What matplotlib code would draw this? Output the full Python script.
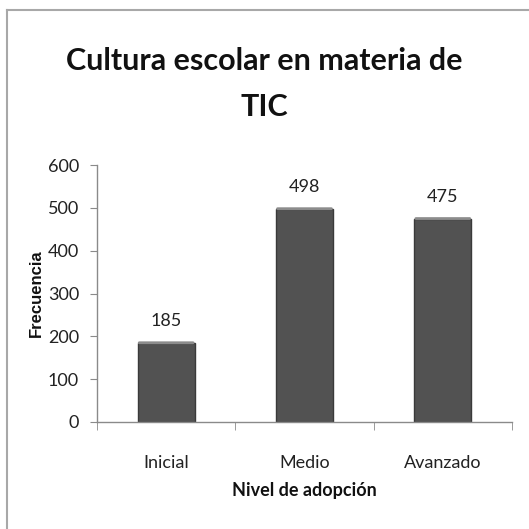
import matplotlib
matplotlib.use("Agg")
import matplotlib.pyplot as plt
from matplotlib.lines import Line2D
import numpy as np

# adoption levels and how many schools fall in each
niveles = ["Inicial", "Medio", "Avanzado"]
frecuencia = [185, 498, 475]
yticks = [0, 100, 200, 300, 400, 500, 600]

fuente = "Lato"

fig = plt.figure(figsize=(5.29, 5.29), dpi=100)
fig.patch.set_facecolor("white")

# thin grey frame on the top and left edges
fig.add_artist(Line2D([7 / 529, 1], [1 - 10 / 529, 1 - 10 / 529],
                      color="#a8a8a8", lw=1.5, transform=fig.transFigure))
fig.add_artist(Line2D([7 / 529, 7 / 529], [0, 1 - 10 / 529],
                      color="#a8a8a8", lw=1.5, transform=fig.transFigure))

ax = fig.add_axes([97 / 529, 1 - 422 / 529, 415 / 529, 257 / 529])

x = np.arange(len(niveles))
bars = ax.bar(x, frecuencia, width=0.41, color="#525252",
              edgecolor="#3a3a3a", linewidth=1.0, zorder=2)

# lighter bevel just under the top of every bar
for b in bars:
    ax.annotate("", xy=(b.get_x() + b.get_width(), b.get_height()),
                xytext=(b.get_x(), b.get_height()),
                arrowprops=dict(arrowstyle="-", color="#8c8c8c", lw=2,
                                shrinkA=1, shrinkB=1),
                zorder=3)

for xi, v in zip(x, frecuencia):
    ax.annotate(str(v), (xi, v), xytext=(0, 10), textcoords="offset points",
                ha="center", va="bottom", fontsize=13, color="#222222",
                family=fuente)

ax.set_xlim(-0.5, 2.5)
ax.set_ylim(0, 600)
ax.set_yticks(yticks)
ax.set_yticklabels([str(t) for t in yticks], family=fuente,
                   fontsize=13, color="#222222")

ax.set_xticks(x)
ax.set_xticklabels(niveles, family=fuente, fontsize=13, color="#222222")
ax.set_xticks(np.arange(-0.5, 3.0, 1.0), minor=True)
ax.tick_params(axis="x", which="major", length=0, pad=24)
ax.tick_params(axis="x", which="minor", length=6, color="#8a8a8a")
ax.tick_params(axis="y", length=5, color="#8a8a8a", pad=8)

for side in ["top", "right"]:
    ax.spines[side].set_visible(False)
for side in ["left", "bottom"]:
    ax.spines[side].set_color("#8a8a8a")
    ax.spines[side].set_linewidth(1.0)

ax.set_xlabel("Nivel de adopción", family=fuente, fontsize=13,
              fontweight="bold", color="#111111", labelpad=8)
ax.set_ylabel("Frecuencia", family="Liberation Sans", fontsize=12,
              fontweight="bold", color="#111111", labelpad=3)

fig.text(0.5, 1 - 61 / 529, "Cultura escolar en materia de",
         ha="center", va="center", family=fuente, fontsize=22,
         fontweight="bold", color="#111111")
fig.text(0.5, 1 - 107 / 529, "TIC", ha="center", va="center",
         family=fuente, fontsize=22, fontweight="bold", color="#111111")

fig.savefig("out.png", dpi=100, facecolor="white")
